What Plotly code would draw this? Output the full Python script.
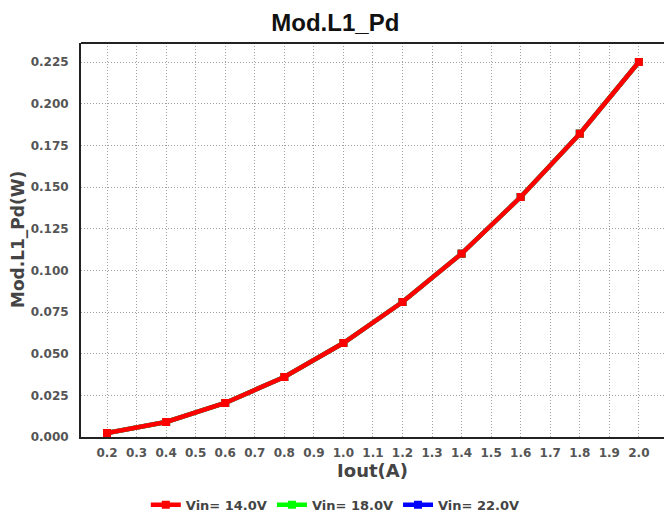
import plotly.graph_objects as go

iout = [0.2, 0.4, 0.6, 0.8, 1.0, 1.2, 1.4, 1.6, 1.8, 2.0]
pd_14 = [0.0024, 0.009, 0.0204, 0.036, 0.0564, 0.081, 0.110, 0.144, 0.182, 0.225]
pd_18 = [0.0024, 0.009, 0.0204, 0.036, 0.0564, 0.081, 0.110, 0.144, 0.182, 0.225]
pd_22 = [0.0024, 0.009, 0.0204, 0.036, 0.0564, 0.081, 0.110, 0.144, 0.182, 0.225]
series_names = ["Vin= 14.0V", "Vin= 18.0V", "Vin= 22.0V"]
series_colors = ["#ff0000", "#00ff00", "#0000ff"]
x_ticks = [0.2, 0.3, 0.4, 0.5, 0.6, 0.7, 0.8, 0.9, 1.0, 1.1, 1.2, 1.3, 1.4, 1.5, 1.6, 1.7, 1.8, 1.9, 2.0]
y_ticks = [0.0, 0.025, 0.05, 0.075, 0.1, 0.125, 0.15, 0.175, 0.2, 0.225]

fig = go.Figure()
series = [pd_14, pd_18, pd_22]
# draw blue first, red last (on top); legend order kept red, green, blue
for i in [2, 1, 0]:
    fig.add_trace(go.Scatter(
        x=iout, y=series[i], name=f"<b>{series_names[i]}</b>", mode="lines+markers",
        line=dict(color=series_colors[i], width=4.5),
        marker=dict(symbol="square", size=8, color=series_colors[i]),
        legendrank=i + 1,
    ))

title_font = "Liberation Sans, Arial, sans-serif"
label_font = "DejaVu Sans, sans-serif"
fig.update_layout(
    width=664, height=515,
    margin=dict(l=81, r=0, t=43, b=78, autoexpand=False),
    paper_bgcolor="white", plot_bgcolor="white",
    title=dict(text="<b>Mod.L1_Pd</b>", x=0.505, xanchor="center", y=0.957, yanchor="middle",
               yref="container", xref="container",
               font=dict(family=title_font, size=24, color="#111")),
    showlegend=True,
    legend=dict(orientation="h", x=0.505, xanchor="center", xref="container", y=0.02, yanchor="middle",
                yref="container",
                font=dict(family=label_font, size=13, color="#444"),
                tracegroupgap=0, traceorder="normal"),
    xaxis=dict(
        range=[0.112, 2.085], tickvals=x_ticks, ticktext=[f"<b>{v:.1f}</b>" for v in x_ticks],
        showgrid=True, gridcolor="#a0a0a0", griddash="1px,2px", gridwidth=1,
        showline=True, linecolor="#222", linewidth=2, zeroline=False, ticks="",
        automargin=False, ticklabelstandoff=4,
        tickfont=dict(family=label_font, size=12, color="#555"),
        title=dict(text="<b>Iout(A)</b>", font=dict(family=label_font, size=18, color="#444"), standoff=5),
    ),
    yaxis=dict(
        range=[0.0, 0.2364], tickvals=y_ticks, ticktext=[f"<b>{v:.3f}</b>" for v in y_ticks],
        showgrid=True, gridcolor="#a0a0a0", griddash="1px,2px", gridwidth=1,
        showline=True, linecolor="#222", linewidth=2, zeroline=False, ticks="",
        automargin=False, ticklabelstandoff=8,
        tickfont=dict(family=label_font, size=12, color="#555"),
    ),
    annotations=[dict(text="<b>Mod.L1_Pd(W)</b>", xref="paper", yref="paper",
                      x=-0.108, y=0.5, xanchor="center", yanchor="middle", textangle=-90,
                      showarrow=False, font=dict(family=label_font, size=17, color="#444"))],
    shapes=[dict(type="line", xref="paper", yref="paper", x0=0, x1=1, y0=1, y1=1,
                 line=dict(color="#222", width=2))],
)

fig.write_html("out.html", config={"displayModeBar": False},
               post_script="document.body.style.margin='0';document.body.style.padding='0';")
